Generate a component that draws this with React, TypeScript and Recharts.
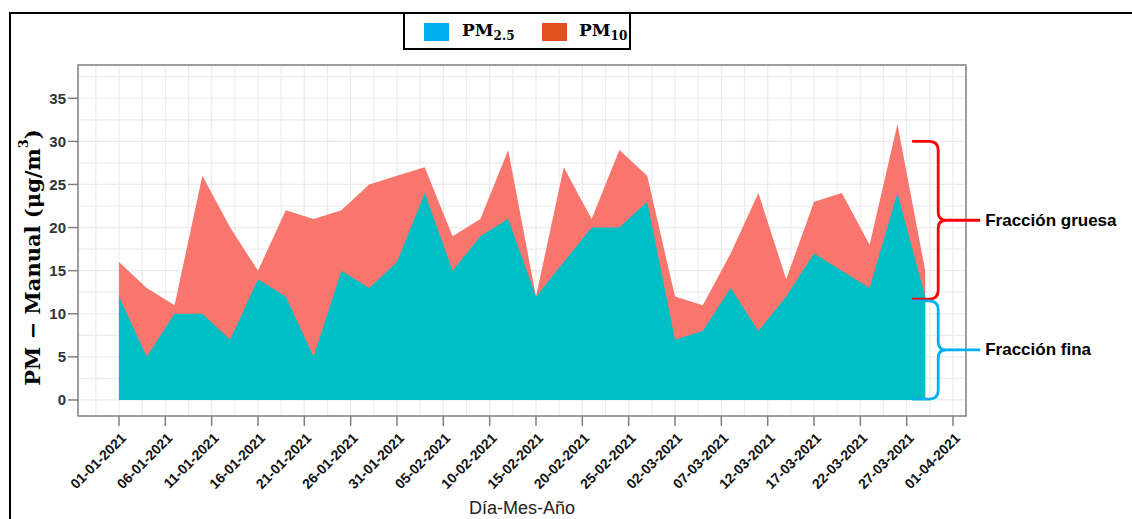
import React from 'react';
import {
  AreaChart,
  Area,
  XAxis,
  YAxis,
  CartesianGrid,
  ReferenceArea,
  ReferenceLine,
} from 'recharts';

// sampling days, counted from 01-01-2021 (one sample every 3 days)
const sampleDays = [0, 3, 6, 9, 12, 15, 18, 21, 24, 27, 30, 33, 36, 39, 42, 45, 48, 51, 54, 57, 60, 63, 66, 69, 72, 75, 78, 81, 84, 87];
const pm25 = [12, 5, 10, 10, 7, 14, 12, 5, 15, 13, 16, 24, 15, 19, 21, 12, 16, 20, 20, 23, 7, 8, 13, 8, 12, 17, 15, 13, 24, 12];
const pm10 = [16, 13, 11, 26, 20, 15, 22, 21, 22, 25, 26, 27, 19, 21, 29, 12, 27, 21, 29, 26, 12, 11, 17, 24, 14, 23, 24, 18, 32, 15];

const dateTicks = [0, 5, 10, 15, 20, 25, 30, 35, 40, 45, 50, 55, 60, 65, 70, 75, 80, 85, 90];
const dateLabels = [
  '01-01-2021', '06-01-2021', '11-01-2021', '16-01-2021', '21-01-2021', '26-01-2021',
  '31-01-2021', '05-02-2021', '10-02-2021', '15-02-2021', '20-02-2021', '25-02-2021',
  '02-03-2021', '07-03-2021', '12-03-2021', '17-03-2021', '22-03-2021', '27-03-2021',
  '01-04-2021',
];
const yTicks = [0, 5, 10, 15, 20, 25, 30, 35];

const X_DOMAIN = [-4.42, 91.4];
const Y_DOMAIN = [-1.86, 38.86];

// light grid every 2.5 units (major + minor)
const gridX: number[] = [];
for (let v = -2.5; v <= 90; v += 2.5) gridX.push(v);
const gridY: number[] = [];
for (let v = 0; v <= 37.5; v += 2.5) gridY.push(v);

const data = sampleDays.map((day, i) => ({ day, pm25: pm25[i], pm10: pm10[i] }));

const TEAL = '#00BFC4';
const SALMON = '#F8766D';

// axis scale can be a plain d3 function or a wrapper with .map()
const applyScale = (axis: any, v: number) => {
  const s = axis && axis.scale;
  if (typeof s === 'function') return s(v);
  if (s && typeof s.map === 'function') return s.map(v);
  return 0;
};

const DateTick = ({ x, y, payload }: any) => {
  const label = dateLabels[dateTicks.indexOf(payload.value)];
  return (
    <g transform={`translate(${x + 8},${y + 11})`}>
      <text
        transform="rotate(-45)"
        textAnchor="end"
        fontFamily="Liberation Sans, Arial, sans-serif"
        fontWeight="bold"
        fontSize={14}
        fill="#111"
      >
        {label}
      </text>
    </g>
  );
};

// curly brace drawn between the two ends of a reference segment
const braceShape = (color: string, text: string) => (props: any) => {
  const { x1, y1, y2 } = props;
  const x = x1;
  const yT = Math.min(y1, y2);
  const yB = Math.max(y1, y2);
  const yM = (yT + yB) / 2;
  const d = [
    `M ${x - 26} ${yT} L ${x - 9} ${yT} Q ${x} ${yT} ${x} ${yT + 9}`,
    `L ${x} ${yM - 8} Q ${x} ${yM} ${x + 8} ${yM} L ${x + 42} ${yM}`,
    `M ${x + 8} ${yM} Q ${x} ${yM} ${x} ${yM + 8}`,
    `L ${x} ${yB - 9} Q ${x} ${yB} ${x - 9} ${yB} L ${x - 26} ${yB}`,
  ].join(' ');
  return (
    <g>
      <path d={d} fill="none" stroke={color} strokeWidth={2.8} />
      <text
        x={x + 47}
        y={yM}
        dominantBaseline="central"
        fontFamily="Liberation Sans, Arial, sans-serif"
        fontWeight="bold"
        fontSize={17}
        fill="#000"
      >
        {text}
      </text>
    </g>
  );
};

const YTitle = (props: any) => {
  const vb = props.viewBox || { x: 0, y: 65, width: 78, height: 351 };
  const cx = vb.x + 32;
  const cy = vb.y + vb.height / 2 + 17;
  return (
    <text
      x={cx}
      y={cy}
      transform={`rotate(-90, ${cx}, ${cy})`}
      textAnchor="middle"
      dominantBaseline="central"
      fontFamily="DejaVu Serif, serif"
      fontWeight="bold"
      fontSize={21}
      fill="#000"
    >
      PM − Manual  (μg/m<tspan dy={-9} fontSize={13}>3</tspan><tspan dy={9}>)</tspan>
    </text>
  );
};

export default function App() {
  return (
    <div style={{ position: 'absolute', left: 0, top: 0, width: 1132, height: 519, background: '#fff' }}>
      {/* figure frame */}
      <div
        style={{
          position: 'absolute',
          left: 9,
          top: 12,
          width: 1123,
          height: 507,
          borderTop: '2px solid #000',
          borderLeft: '2px solid #000',
          boxSizing: 'border-box',
        }}
      />

      <div style={{ position: 'absolute', left: 0, top: 0 }}>
        <AreaChart
          width={1132}
          height={519}
          data={data}
          margin={{ top: 65, right: 166, bottom: 0, left: 0 }}
        >
          <CartesianGrid
            stroke="#EBEBEB"
            strokeWidth={1.2}
            verticalCoordinatesGenerator={({ xAxis }: any) => gridX.map((v) => applyScale(xAxis, v))}
            horizontalCoordinatesGenerator={({ yAxis }: any) => gridY.map((v) => applyScale(yAxis, v))}
          />
          <XAxis
            type="number"
            dataKey="day"
            domain={X_DOMAIN}
            ticks={dateTicks}
            interval={0}
            height={103}
            axisLine={false}
            tickSize={10}
            tickMargin={2}
            tickLine={{ stroke: '#7F7F7F', strokeWidth: 1.5 }}
            tick={<DateTick />}
            label={{
              value: 'Día-Mes-Año',
              position: 'insideBottom',
              offset: 5,
              fontFamily: 'Liberation Sans, Arial, sans-serif',
              fontSize: 18,
              fill: '#222',
            }}
          />
          <YAxis
            type="number"
            domain={Y_DOMAIN}
            ticks={yTicks}
            interval={0}
            width={78}
            axisLine={false}
            tickSize={10}
            tickMargin={2}
            tickLine={{ stroke: '#7F7F7F', strokeWidth: 1.5 }}
            tick={{
              fontFamily: 'Liberation Sans, Arial, sans-serif',
              fontWeight: 'bold',
              fontSize: 15,
              fill: '#333',
            }}
            label={{ content: <YTitle /> }}
          />
          <Area
            type="linear"
            dataKey="pm10"
            stroke="none"
            fill={SALMON}
            fillOpacity={1}
            baseValue={0}
            isAnimationActive={false}
          />
          <Area
            type="linear"
            dataKey="pm25"
            stroke="none"
            fill={TEAL}
            fillOpacity={1}
            baseValue={0}
            isAnimationActive={false}
          />
          <ReferenceArea
            x1={X_DOMAIN[0]}
            x2={X_DOMAIN[1]}
            y1={Y_DOMAIN[0]}
            y2={Y_DOMAIN[1]}
            fill="none"
            stroke="#7F7F7F"
            strokeWidth={1.5}
            ifOverflow="extendDomain"
          />
          <ReferenceLine
            segment={[{ x: 88.4, y: 30 }, { x: 88.4, y: 11.7 }]}
            shape={braceShape('#FF0000', 'Fracción gruesa')}
          />
          <ReferenceLine
            segment={[{ x: 88.4, y: 11.5 }, { x: 88.4, y: 0.1 }]}
            shape={braceShape('#00B0F0', 'Fracción fina')}
          />
        </AreaChart>
      </div>

      {/* legend box */}
      <div
        style={{
          position: 'absolute',
          left: 403,
          top: 12,
          width: 228,
          height: 38,
          border: '2px solid #000',
          boxSizing: 'border-box',
          background: '#fff',
          fontFamily: 'DejaVu Serif, serif',
          fontWeight: 'bold',
          fontSize: 17,
          color: '#000',
        }}
      >
        <div style={{ position: 'absolute', left: 19, top: 9, width: 25, height: 18, background: '#00B0F0' }} />
        <div style={{ position: 'absolute', left: 57, top: 6, lineHeight: '20px', whiteSpace: 'nowrap' }}>
          PM<sub style={{ fontSize: 12 }}>2.5</sub>
        </div>
        <div style={{ position: 'absolute', left: 137, top: 9, width: 25, height: 18, background: '#E0501F' }} />
        <div style={{ position: 'absolute', left: 174, top: 6, lineHeight: '20px', whiteSpace: 'nowrap' }}>
          PM<sub style={{ fontSize: 12 }}>10</sub>
        </div>
      </div>
    </div>
  );
}
